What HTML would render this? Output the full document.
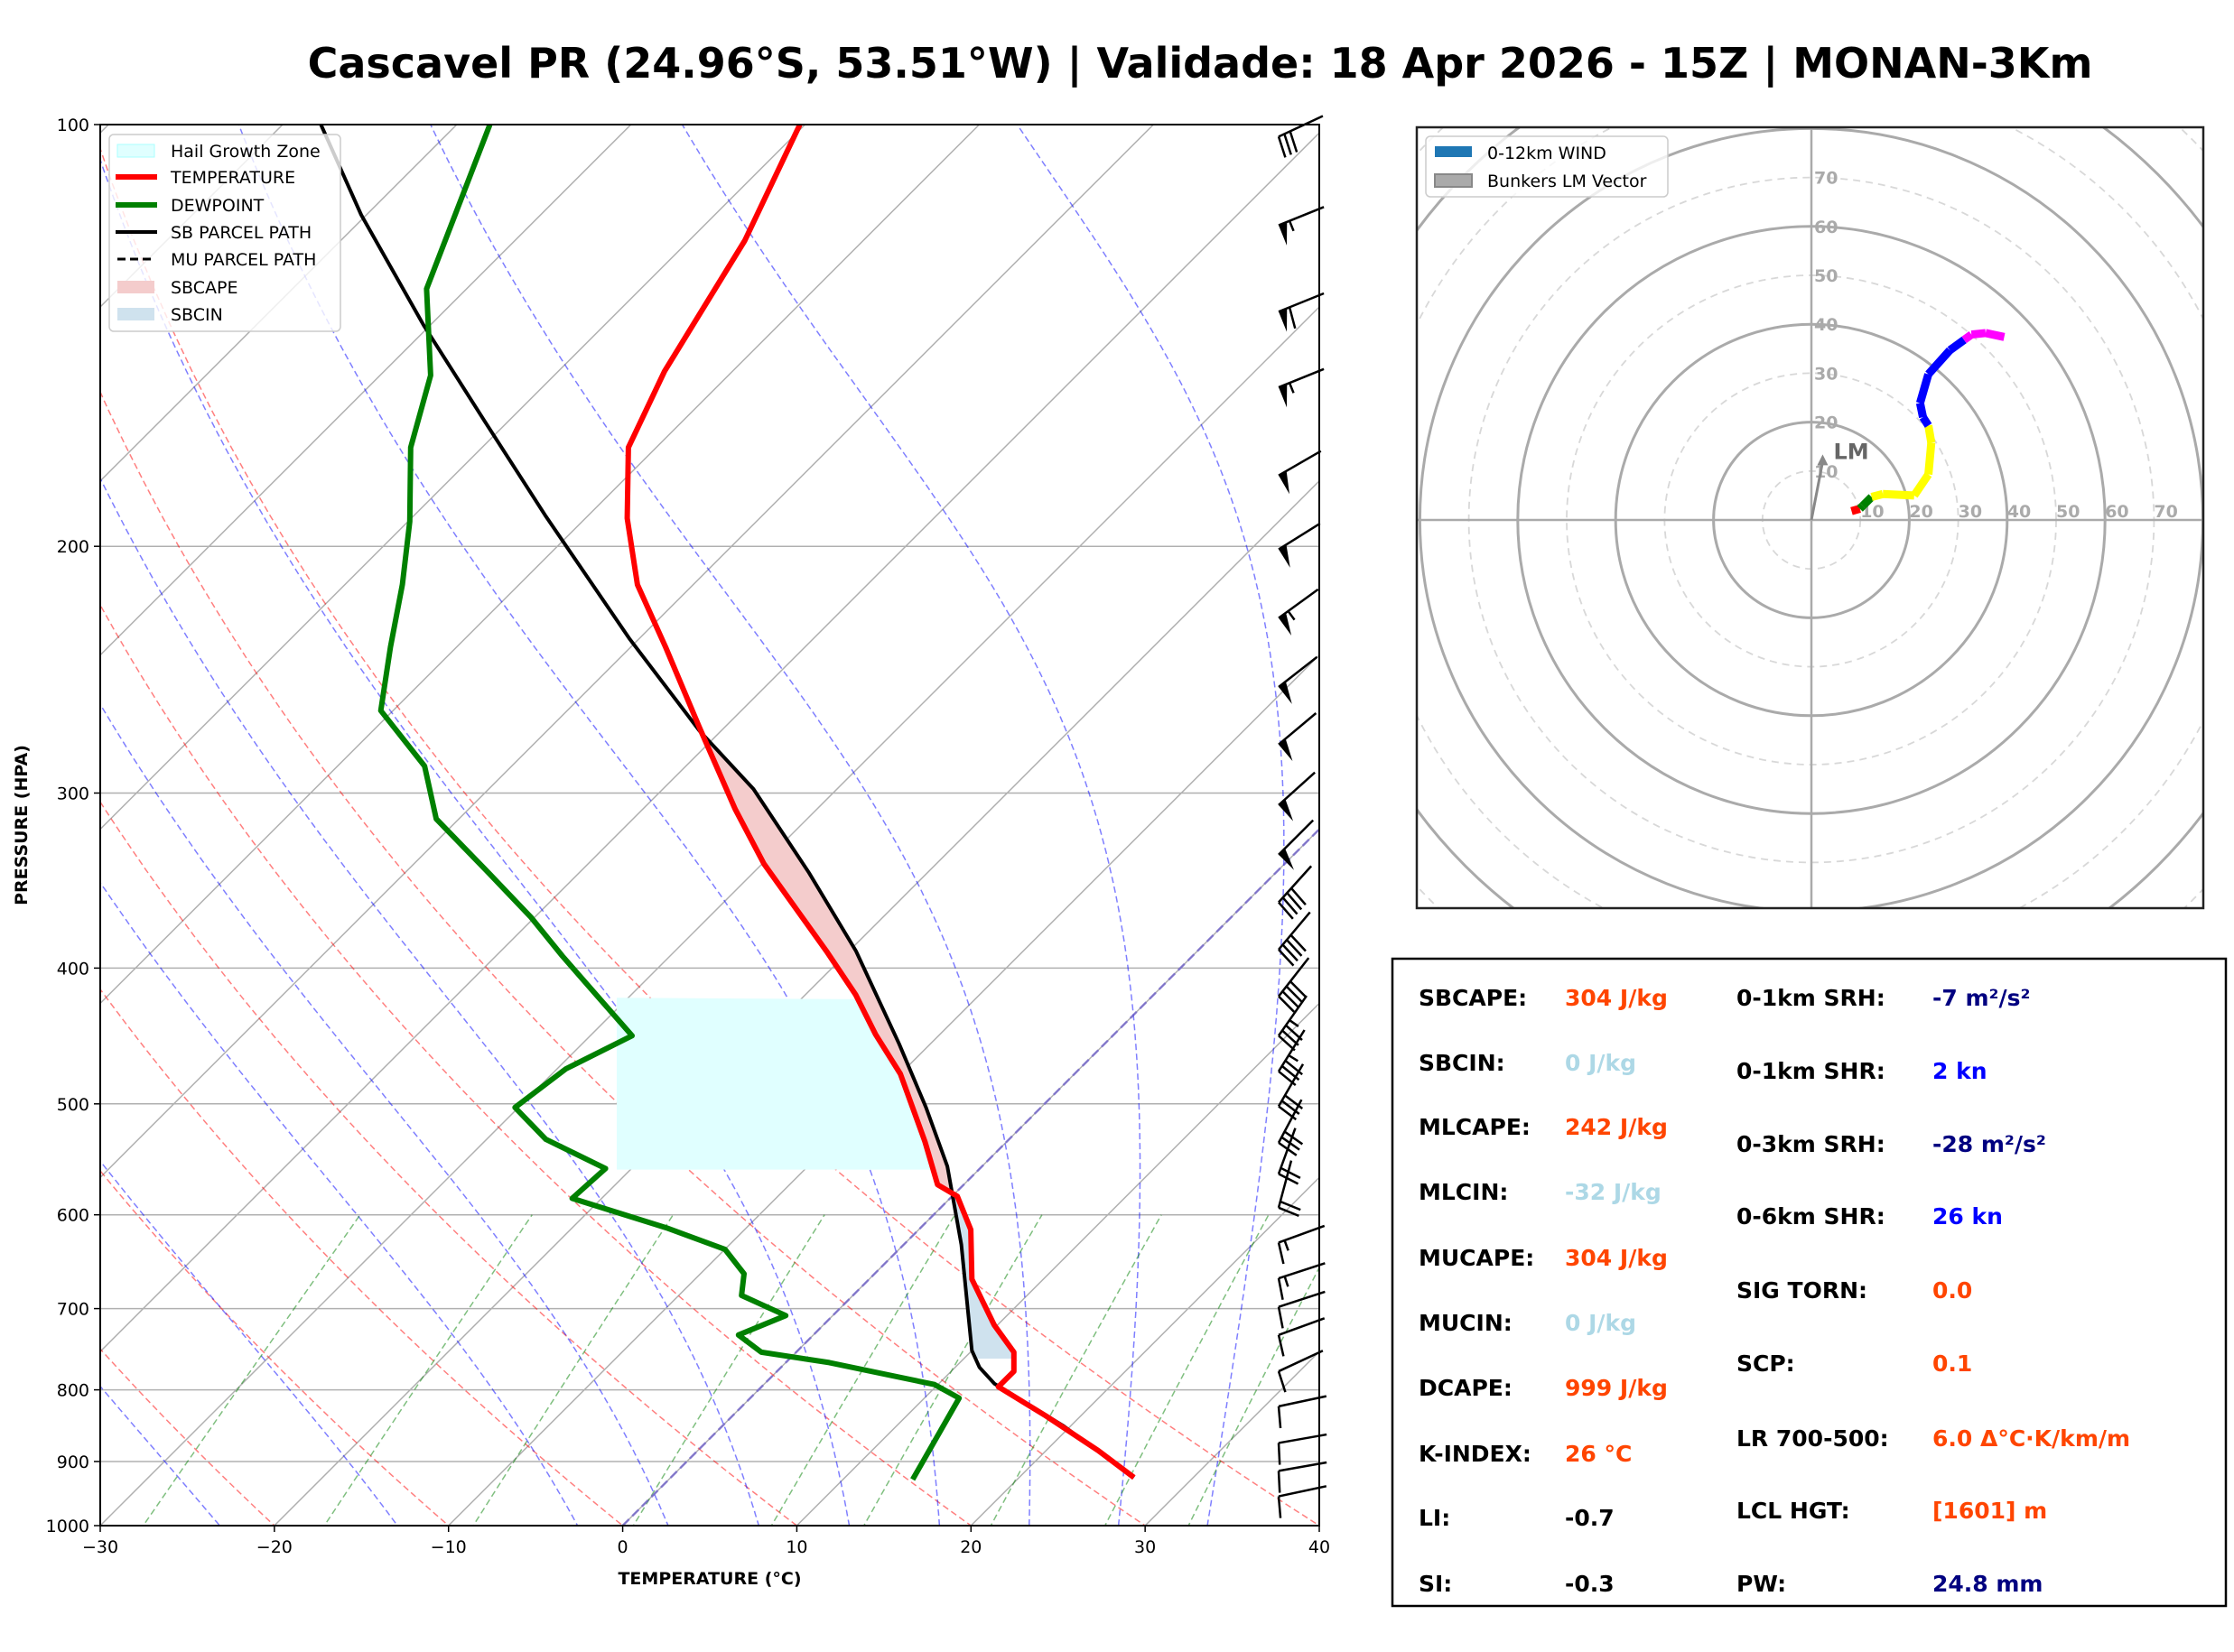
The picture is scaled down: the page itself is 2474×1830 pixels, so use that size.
<!DOCTYPE html>
<html><head><meta charset="utf-8">
<style>
html,body{margin:0;padding:0;background:#fff;}
svg{display:block;font-family:"DejaVu Sans","Liberation Sans",sans-serif;}
</style></head>
<body>
<svg id="fig" xmlns="http://www.w3.org/2000/svg" width="2474" height="1830" viewBox="0 0 2474 1830">
<rect x="0" y="0" width="2474" height="1830" fill="#fff"/>
<text x="1329" y="86" text-anchor="middle" font-size="46" font-weight="bold">Cascavel PR (24.96°S, 53.51°W) | Validade: 18 Apr 2026 - 15Z | MONAN-3Km</text>
<defs>
<clipPath id="skclip"><rect x="111" y="138" width="1350" height="1552"/></clipPath>
<clipPath id="hoclip"><rect x="1569" y="141" width="871" height="865"/></clipPath>
</defs>
<g id="skew"></g>
<g id="hodo"></g>
<g id="stats"></g>
</svg>
<script>
// ---------- data ----------
const tempP = [924,884,835,796,776,752,719,667,615,582,571,532,476,446,418,389,337,308,269,236,213,191,170,150,121,100];
const tempT = [26.6,23.0,18.0,13.6,13.6,12.5,9.8,5.9,3.0,0.3,-1.5,-4.7,-10.0,-13.7,-17.1,-21.3,-29.9,-34.7,-41.5,-48.0,-53.2,-57.6,-61.6,-63.9,-66.8,-70.3];
const dewP = [927,811,793,765,752,731,708,685,661,635,613,584,556,530,503,472,447,418,392,368,342,313,287,262,236,213,192,170,151,131,100];
const dewT = [14.0,12.0,9.8,2.5,-2.0,-4.3,-2.7,-6.4,-7.5,-10.0,-14.6,-21.7,-21.5,-26.6,-30.2,-29.5,-27.6,-32.0,-36.2,-40.2,-45.2,-51.3,-55.0,-60.7,-63.8,-66.7,-69.9,-74.1,-77.1,-82.3,-88.1];
const parP = [924,849,792,771,750,630,554,503,453,389,342,298,271,233,190,163,139,116,100];
const parT = [26.6,19.6,13.2,11.4,10.0,3.3,-2.0,-6.6,-11.8,-19.6,-26.8,-34.8,-41.2,-50.5,-62.5,-71.3,-80.4,-90.3,-97.8];
const barbP = [102,118,136,154,178,201,225,252,277,306,332,359,388,419,447,474,502,533,561,593,628,666,698,731,776,822,873,914,953];
const barbSpd = [30,55,60,55,50,50,55,50,50,50,50,40,40,40,35,35,30,30,20,20,15,15,10,10,10,10,10,10,10];
const barbAng = [25,22,22,22,30,32,36,38,40,42,45,48,50,52,55,58,60,62,70,75,20,18,18,20,25,12,10,10,12];
const pTicks = [100,200,300,400,500,600,700,800,900,1000];
const tTicks = [-30,-20,-10,0,10,20,30,40];
const hodoU = [8.2,9.9,10.5,12.3,14.6,21.0,23.9,24.5,23.9,22.8,22.2,23.9,28.3,31.2,32.7,35.6,39.4];
const hodoV = [1.8,2.3,2.9,4.7,5.3,5.0,9.3,15.8,19.3,21.0,23.9,29.8,34.7,36.8,37.9,38.2,37.4];
const hodoSeg = [0,0,1,1,2,2,2,2,2,3,3,3,3,3,4,4,4];
const segColors = ['#ff0000','#008000','#ffff00','#0000ff','#ff00ff'];
const lmU = 2.3, lmV = 13.4;

const NS='http://www.w3.org/2000/svg';
function mk(tag,attrs,parent){const e=document.createElementNS(NS,tag);for(const k in attrs)e.setAttribute(k,attrs[k]);if(parent)parent.appendChild(e);return e;}
const X0=111,X1=1461,Y0=138,Y1=1690,PXC=(X1-X0)/70;
function yp(p){return Y1-(Y1-Y0)*Math.log10(1000/p);}
function xt(T,p){return X0+(T+30)*PXC+(Y1-yp(p));}
function interp(P,T,p){
  for(let i=0;i<P.length-1;i++){const a=P[i],b=P[i+1];if((p<=a&&p>=b)){const f=(Math.log(p)-Math.log(a))/(Math.log(b)-Math.log(a));return T[i]+f*(T[i+1]-T[i]);}}
  return null;}

const sk=document.getElementById('skew');
const bg=mk('g',{'clip-path':'url(#skclip)'},sk);


pTicks.forEach(p=>{const l=mk('line',{x1:X0,x2:X1,y1:yp(p),y2:yp(p),stroke:'#b0b0b0','stroke-width':1.5},bg);

});
for(let T=-110;T<=40;T+=10){const l=mk('line',{x1:xt(T,1050),y1:yp(1050),x2:xt(T,90),y2:yp(90),stroke:'#b0b0b0','stroke-width':1.5},bg);

}
function pathFrom(pts){return pts.map((q,i)=>(i?'L':'M')+q[0].toFixed(1)+' '+q[1].toFixed(1)).join(' ');}
for(let th=-30;th<=40;th+=10){const pts=[];for(let p=1050;p>=100;p-=10){const T=(th+273.15)*Math.pow(p/1000,0.2857)-273.15;pts.push([xt(T,p),yp(p)]);}
const e=mk('path',{d:pathFrom(pts),fill:'none',stroke:'#ff0000','stroke-opacity':0.5,'stroke-width':1.5,'stroke-dasharray':'7,4'},bg);

}
function es(Tc){return 6.112*Math.exp(17.67*Tc/(Tc+243.5));}
[-20,-10,0,5,10,15,20,25,30,35].forEach(T0=>{let T=T0+273.15;const pts=[];for(let p=1050;p>=100;p-=2){pts.push([xt(T-273.15,p),yp(p)]);const rs=0.622*es(T-273.15)/(p-es(T-273.15));const Rd=287,Cp=1004,Lv=2.5e6;const dTdp=(Rd*T+Lv*rs)/(p*(Cp+Lv*Lv*rs*0.622/(Rd*T*T)));T-=dTdp*2;}
const e=mk('path',{d:pathFrom(pts),fill:'none',stroke:'#0000ff','stroke-opacity':0.5,'stroke-width':1.5,'stroke-dasharray':'7,4'},bg);

});
[0.4,1,2,4,7,10,16,24,32].forEach(w=>{const pts=[];for(let p=1050;p>=600;p-=10){const e=w*p/(622+w);const l=Math.log(e/6.112);const T=243.5*l/(17.67-l);pts.push([xt(T,p),yp(p)]);}
const e=mk('path',{d:pathFrom(pts),fill:'none',stroke:'#008000','stroke-opacity':0.5,'stroke-width':1.5,'stroke-dasharray':'7,4'},bg);

});
const zl=mk('line',{x1:xt(0,1000),y1:yp(1000),x2:xt(0,100),y2:yp(100),stroke:'#6a5acd','stroke-opacity':0.7,'stroke-width':2.5,'stroke-dasharray':'10,5'},bg);



(function(){const pts=[];const pTop=420,pBot=557;for(let p=pBot;p>=pTop;p-=2){pts.push([xt(interp(tempP,tempT,p),p),yp(p)]);}
pts.push([683,yp(pTop)]);pts.push([683,yp(pBot)]);
const e=mk('polygon',{points:pts.map(q=>q.join(',')).join(' '),fill:'#e0ffff'},bg);

})();
(function(){let cur=null,sign=0,segs=[];for(let p=760;p>=270;p-=1){const t=interp(tempP,tempT,p),q=interp(parP,parT,p);const s=q>t?1:-1;if(s!==sign){if(cur)segs.push({s:sign,pts:cur});cur=[];sign=s;}cur.push([p,t,q]);}
if(cur)segs.push({s:sign,pts:cur});
segs.forEach(sg=>{const a=sg.pts.map(r=>[xt(r[1],r[0]),yp(r[0])]);const b=sg.pts.slice().reverse().map(r=>[xt(r[2],r[0]),yp(r[0])]);
const e=mk('polygon',{points:a.concat(b).map(q=>q[0].toFixed(1)+','+q[1].toFixed(1)).join(' '),fill:sg.s>0?'#f4cccc':'#cfe2ee'},bg);

});})();
function prof(P,T,color,w,name){const pts=P.map((p,i)=>[xt(T[i],p),yp(p)]);const e=mk('path',{d:pathFrom(pts),fill:'none',stroke:color,'stroke-width':w,'stroke-linejoin':'round'},bg);

}
prof(parP,parT,'#000',4,'sb-parcel-path');
prof(tempP,tempT,'#ff0000',6,'temperature-line');
prof(dewP,dewT,'#008000',6,'dewpoint-line');

const bgB=mk('g',{},sk);


barbP.forEach((p,i)=>{const a=barbAng[i]*Math.PI/180;const c=Math.cos(a),s=Math.sin(a);const Sx=1416,Sy=yp(p);const L=54;
const g=mk('g',{},bgB);


mk('line',{x1:Sx,y1:Sy,x2:Sx+L*c,y2:Sy-L*s,stroke:'#000','stroke-width':2.5},g);
const nx=s,ny=c;let spd=barbSpd[i];let pos=0;const FL=24;
while(spd>=50){const bx=Sx+pos*c,by=Sy-pos*s;mk('polygon',{points:`${bx},${by} ${bx+FL*nx},${by+FL*ny} ${bx+10*c},${by-10*s}`,fill:'#000'},g);pos+=13;spd-=50;}
while(spd>=10){const bx=Sx+pos*c,by=Sy-pos*s;mk('line',{x1:bx,y1:by,x2:bx+FL*nx-3*c,y2:by+FL*ny+3*s,stroke:'#000','stroke-width':2.5},g);pos+=7;spd-=10;}
if(spd>=5){const bx=Sx+pos*c,by=Sy-pos*s;mk('line',{x1:bx,y1:by,x2:bx+FL*0.5*nx,y2:by+FL*0.5*ny,stroke:'#000','stroke-width':2.5},g);}
});

const fr=mk('rect',{x:X0,y:Y0,width:X1-X0,height:Y1-Y0,fill:'none',stroke:'#000','stroke-width':2},sk);


pTicks.forEach(p=>{mk('line',{x1:X0-7,x2:X0,y1:yp(p),y2:yp(p),stroke:'#000','stroke-width':1.5},sk);
const t=mk('text',{x:X0-12,y:yp(p)+7,'text-anchor':'end','font-size':19},sk);t.textContent=p;

});
tTicks.forEach(T=>{const x=X0+(T+30)*PXC;mk('line',{x1:x,x2:x,y1:Y1,y2:Y1+7,stroke:'#000','stroke-width':1.5},sk);
const t=mk('text',{x:x,y:Y1+30,'text-anchor':'middle','font-size':19},sk);t.textContent=(T<0?'\u2212'+(-T):T);

});
{const t=mk('text',{x:786,y:1755,'text-anchor':'middle','font-size':19,'font-weight':'bold'},sk);t.textContent='TEMPERATURE (°C)';


const t2=mk('text',{x:30,y:914,'text-anchor':'middle','font-size':19,'font-weight':'bold',transform:'rotate(-90 30 914)'},sk);t2.textContent='PRESSURE (HPA)';

}
(function(){const g=mk('g',{},sk);


mk('rect',{x:121,y:149,width:256,height:218,rx:5,fill:'#fff','fill-opacity':0.8,stroke:'#ccc','stroke-width':1.5},g);
const items=[['Hail Growth Zone','patch','#e0ffff','#aaffff'],['TEMPERATURE','line','#ff0000'],['DEWPOINT','line','#008000'],['SB PARCEL PATH','line','#000'],['MU PARCEL PATH','dash','#000'],['SBCAPE','patch','#f4cccc','none'],['SBCIN','patch','#cfe2ee','none']];
const ys=[167,196,227,257,287,318,348];
items.forEach((it,i)=>{const y=ys[i];
if(it[1]==='patch')mk('rect',{x:130,y:y-7,width:41,height:14,fill:it[2],stroke:it[3]},g);
else if(it[1]==='line')mk('line',{x1:128,x2:174,y1:y,y2:y,stroke:it[2],'stroke-width':it[2]==='#000'?4:6},g);
else mk('line',{x1:130,x2:172,y1:y,y2:y,stroke:'#000','stroke-width':3,'stroke-dasharray':'9,5'},g);
const t=mk('text',{x:189,y:y+7,'font-size':19},g);t.textContent=it[0];

});})();

// ---------- hodograph ----------
const ho=document.getElementById('hodo');
const HC=[2006,576],KS=5.42;
const hg=mk('g',{'clip-path':'url(#hoclip)'},ho);
for(let r=10;r<=110;r+=10){const solid=r%20===0;const c=mk('circle',{cx:HC[0],cy:HC[1],r:r*KS,fill:'none',stroke:solid?'#aaaaaa':'#d8d8d8','stroke-width':solid?3:1.8,'stroke-dasharray':solid?'none':'8,6'},hg);

}
mk('line',{x1:1569,x2:2440,y1:HC[1],y2:HC[1],stroke:'#aaa','stroke-width':2.5},hg);
mk('line',{x1:HC[0],x2:HC[0],y1:141,y2:1006,stroke:'#aaa','stroke-width':2.5},hg);
for(let k=10;k<=70;k+=10){const t=mk('text',{x:HC[0]+k*KS,y:HC[1]-3,'font-size':19,'font-weight':'bold',fill:'#aaaaaa'},hg);t.textContent=k;


const t2=mk('text',{x:HC[0]+3,y:HC[1]-k*KS+7,'font-size':19,'font-weight':'bold',fill:'#aaaaaa'},hg);t2.textContent=k;

}
{const lx=HC[0]+lmU*KS,ly=HC[1]-lmV*KS;const l=mk('line',{x1:HC[0],y1:HC[1],x2:lx,y2:ly+8,stroke:'#888','stroke-width':3},hg);


mk('polygon',{points:`${lx},${ly} ${lx-6},${ly+12} ${lx+6},${ly+12}`,fill:'#888'},hg);
const t=mk('text',{x:lx+12,y:ly+5,'font-size':24,'font-weight':'bold',fill:'#666'},hg);t.textContent='LM';

}
for(let i=0;i<hodoU.length-1;i++){const c=segColors[hodoSeg[i+1]];const s=mk('line',{x1:HC[0]+hodoU[i]*KS,y1:HC[1]-hodoV[i]*KS,x2:HC[0]+hodoU[i+1]*KS,y2:HC[1]-hodoV[i+1]*KS,stroke:c,'stroke-width':9,'stroke-linecap':'butt'},hg);

}
{const f=mk('rect',{x:1569,y:141,width:871,height:865,fill:'none',stroke:'#222','stroke-width':2.5},ho);


const g=mk('g',{},ho);


mk('rect',{x:1579,y:151,width:268,height:67,rx:5,fill:'#fff','fill-opacity':0.8,stroke:'#ccc','stroke-width':1.5},g);
mk('rect',{x:1589,y:162,width:41,height:12,fill:'#1f77b4'},g);
mk('rect',{x:1589,y:193,width:41,height:14,fill:'#aaa',stroke:'#888','stroke-width':2},g);
const t1=mk('text',{x:1647,y:176,'font-size':19},g);t1.textContent='0-12km WIND';


const t2=mk('text',{x:1647,y:207,'font-size':19},g);t2.textContent='Bunkers LM Vector';

}

// ---------- stats ----------
const st=document.getElementById('stats');
{const r=mk('rect',{x:1542,y:1062,width:923,height:717,fill:'#fff',stroke:'#000','stroke-width':2.5},st);

}
const OR='#ff4500',LB='#add8e6',NV='#000080',BL='#0000ff';
const left=[['SBCAPE:','304 J/kg',OR],['SBCIN:','0 J/kg',LB],['MLCAPE:','242 J/kg',OR],['MLCIN:','-32 J/kg',LB],['MUCAPE:','304 J/kg',OR],['MUCIN:','0 J/kg',LB],['DCAPE:','999 J/kg',OR],['K-INDEX:','26 °C',OR],['LI:','-0.7','#000'],['SI:','-0.3','#000']];
const leftY=[1107,1179,1250,1322,1395,1467,1539,1612,1683,1756];
const right=[['0-1km SRH:','-7 m²/s²',NV],['0-1km SHR:','2 kn',BL],['0-3km SRH:','-28 m²/s²',NV],['0-6km SHR:','26 kn',BL],['SIG TORN:','0.0',OR],['SCP:','0.1',OR],['LR 700-500:','6.0 Δ°C·K/km/m',OR],['LCL HGT:','[1601] m',OR],['PW:','24.8 mm',NV]];
const rightY=[1107,1188,1269,1349,1431,1512,1595,1675,1756];
left.forEach((r,i)=>{const a=mk('text',{x:1571,y:leftY[i]+7,'font-size':25,'font-weight':'bold'},st);a.textContent=r[0];


const b=mk('text',{x:1733,y:leftY[i]+7,'font-size':25,'font-weight':'bold',fill:r[2]},st);b.textContent=r[1];

});
right.forEach((r,i)=>{const a=mk('text',{x:1923,y:rightY[i]+7,'font-size':25,'font-weight':'bold'},st);a.textContent=r[0];


const b=mk('text',{x:2140,y:rightY[i]+7,'font-size':25,'font-weight':'bold',fill:r[2]},st);b.textContent=r[1];

});
</script>
</body></html>
